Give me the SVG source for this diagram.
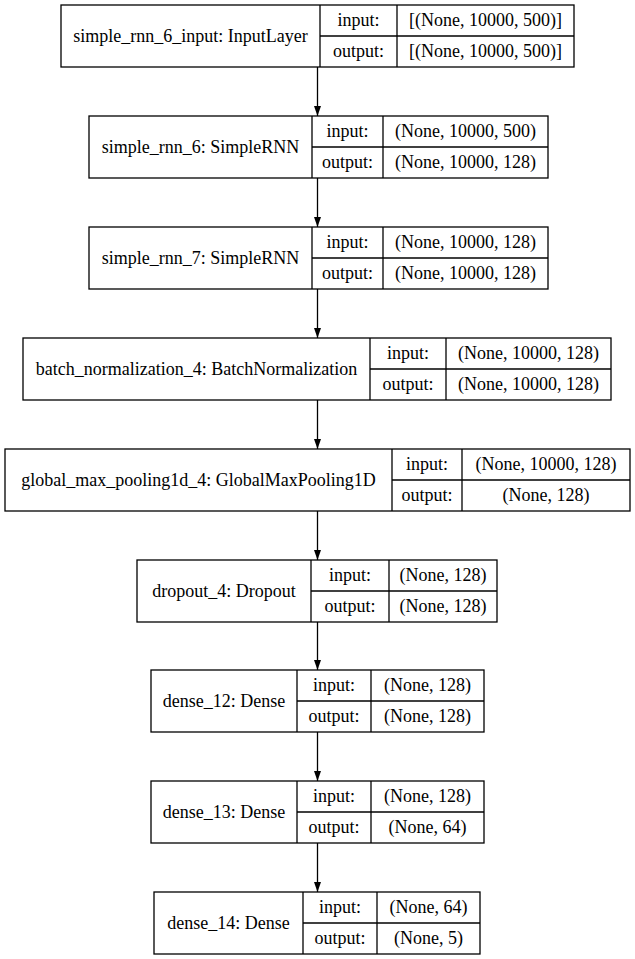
<svg xmlns="http://www.w3.org/2000/svg" width="635" height="959" viewBox="0 0 635 959" font-family="'Liberation Serif', 'Times New Roman', serif">
<style>
rect{fill:#fff;stroke:#000;stroke-width:1.3}
line{stroke:#000;stroke-width:1.3}
text{font-family:"Liberation Serif","Times New Roman",serif;font-size:18px;fill:#000;text-anchor:middle}
</style>
<defs>
<marker id="ah" markerWidth="10" markerHeight="10" refX="10" refY="5" orient="auto" markerUnits="userSpaceOnUse">
<path d="M0,1.5 L10,5 L0,8.5 Z" fill="#000"/>
</marker>
</defs>
<rect x="0" y="0" width="635" height="959" style="stroke:none"/>
<g id="connectors">
<line x1="317.5" y1="67" x2="317.5" y2="116" marker-end="url(#ah)"/>
<line x1="317.5" y1="178" x2="317.5" y2="227" marker-end="url(#ah)"/>
<line x1="317.5" y1="289" x2="317.5" y2="338" marker-end="url(#ah)"/>
<line x1="317.5" y1="400" x2="317.5" y2="449" marker-end="url(#ah)"/>
<line x1="317.5" y1="511" x2="317.5" y2="560" marker-end="url(#ah)"/>
<line x1="317.5" y1="622" x2="317.5" y2="670" marker-end="url(#ah)"/>
<line x1="317.5" y1="732" x2="317.5" y2="781" marker-end="url(#ah)"/>
<line x1="317.5" y1="843" x2="317.5" y2="892" marker-end="url(#ah)"/>
</g>
<g id="n1">
<rect x="61" y="5" width="513" height="62"/>
<line x1="320" y1="5" x2="320" y2="67"/><line x1="397" y1="5" x2="397" y2="67"/><line x1="320" y1="36" x2="574" y2="36"/>
<text x="190.5" y="42">simple_rnn_6_input: InputLayer</text>
<text x="358.5" y="26">input:</text><text x="358.5" y="57">output:</text>
<text x="485.5" y="26">[(None, 10000, 500)]</text><text x="485.5" y="57">[(None, 10000, 500)]</text>
</g>
<g id="n2">
<rect x="89" y="116" width="459" height="62"/>
<line x1="312" y1="116" x2="312" y2="178"/><line x1="383" y1="116" x2="383" y2="178"/><line x1="312" y1="147" x2="548" y2="147"/>
<text x="200.5" y="153">simple_rnn_6: SimpleRNN</text>
<text x="347.5" y="137">input:</text><text x="347.5" y="168">output:</text>
<text x="465.5" y="137">(None, 10000, 500)</text><text x="465.5" y="168">(None, 10000, 128)</text>
</g>
<g id="n3">
<rect x="89" y="227" width="459" height="62"/>
<line x1="312" y1="227" x2="312" y2="289"/><line x1="383" y1="227" x2="383" y2="289"/><line x1="312" y1="258" x2="548" y2="258"/>
<text x="200.5" y="264">simple_rnn_7: SimpleRNN</text>
<text x="347.5" y="248">input:</text><text x="347.5" y="279">output:</text>
<text x="465.5" y="248">(None, 10000, 128)</text><text x="465.5" y="279">(None, 10000, 128)</text>
</g>
<g id="n4">
<rect x="23" y="338" width="588" height="62"/>
<line x1="370" y1="338" x2="370" y2="400"/><line x1="446" y1="338" x2="446" y2="400"/><line x1="370" y1="369" x2="611" y2="369"/>
<text x="196.5" y="375">batch_normalization_4: BatchNormalization</text>
<text x="408" y="359">input:</text><text x="408" y="390">output:</text>
<text x="528.5" y="359">(None, 10000, 128)</text><text x="528.5" y="390">(None, 10000, 128)</text>
</g>
<g id="n5">
<rect x="5" y="449" width="625" height="62"/>
<line x1="392" y1="449" x2="392" y2="511"/><line x1="462" y1="449" x2="462" y2="511"/><line x1="392" y1="480" x2="630" y2="480"/>
<text x="198.5" y="486">global_max_pooling1d_4: GlobalMaxPooling1D</text>
<text x="427" y="470">input:</text><text x="427" y="501">output:</text>
<text x="546" y="470">(None, 10000, 128)</text><text x="546" y="501">(None, 128)</text>
</g>
<g id="n6">
<rect x="137" y="560" width="360" height="62"/>
<line x1="311" y1="560" x2="311" y2="622"/><line x1="389" y1="560" x2="389" y2="622"/><line x1="311" y1="591" x2="497" y2="591"/>
<text x="224" y="597">dropout_4: Dropout</text>
<text x="350" y="581">input:</text><text x="350" y="612">output:</text>
<text x="443" y="581">(None, 128)</text><text x="443" y="612">(None, 128)</text>
</g>
<g id="n7">
<rect x="151" y="670" width="333" height="62"/>
<line x1="297" y1="670" x2="297" y2="732"/><line x1="371" y1="670" x2="371" y2="732"/><line x1="297" y1="701" x2="484" y2="701"/>
<text x="224" y="707">dense_12: Dense</text>
<text x="334" y="691">input:</text><text x="334" y="722">output:</text>
<text x="427.5" y="691">(None, 128)</text><text x="427.5" y="722">(None, 128)</text>
</g>
<g id="n8">
<rect x="151" y="781" width="333" height="62"/>
<line x1="297" y1="781" x2="297" y2="843"/><line x1="371" y1="781" x2="371" y2="843"/><line x1="297" y1="812" x2="484" y2="812"/>
<text x="224" y="818">dense_13: Dense</text>
<text x="334" y="802">input:</text><text x="334" y="833">output:</text>
<text x="427.5" y="802">(None, 128)</text><text x="427.5" y="833">(None, 64)</text>
</g>
<g id="n9">
<rect x="154" y="892" width="326" height="62"/>
<line x1="303" y1="892" x2="303" y2="954"/><line x1="377" y1="892" x2="377" y2="954"/><line x1="303" y1="923" x2="480" y2="923"/>
<text x="228.5" y="929">dense_14: Dense</text>
<text x="340" y="913">input:</text><text x="340" y="944">output:</text>
<text x="428.5" y="913">(None, 64)</text><text x="428.5" y="944">(None, 5)</text>
</g>
</svg>
